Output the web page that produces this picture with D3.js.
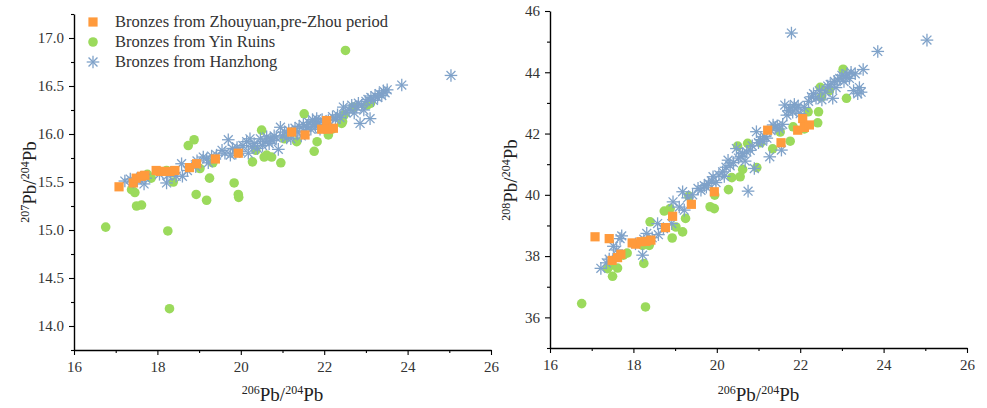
<!DOCTYPE html>
<html><head><meta charset="utf-8">
<script src="https://cdn.jsdelivr.net/npm/d3@7"></script>
<style>
body{margin:0;background:#fff;}
svg text{font-family:"Liberation Serif","Times New Roman",serif !important;}
</style></head>
<body><svg id="c" width="987" height="408"></svg>
<script>
// ---- DATA ----
const seriesNames = ["Bronzes from Zhouyuan,pre-Zhou period","Bronzes from Yin Ruins","Bronzes from Hanzhong"];
const seriesColors = ["#FF9A3C","#9BDA5C","#7FA2C9"];
// Zhouyuan: 206/204, 207/204, 208/204
const zhou206 = [17.08,17.42,17.49,17.62,17.70,17.97,18.06,18.18,18.30,18.42,18.77,18.94,19.39,19.94,21.22,21.54,21.94,22.06,22.10,22.22];
const zhou207 = [15.45,15.49,15.54,15.56,15.57,15.62,15.61,15.61,15.61,15.62,15.65,15.69,15.74,15.80,16.02,15.99,16.05,16.14,16.05,16.06];
const zhou208 = [38.63,38.57,37.86,37.95,38.06,38.43,38.39,38.47,38.48,38.52,38.93,39.30,39.69,40.10,42.11,41.70,42.11,42.49,42.20,42.28];
// Yin Ruins
const yin206 = [16.76,17.38,17.46,17.50,17.62,17.76,17.85,18.22,18.25,18.29,18.38,18.40,18.74,18.88,18.93,19.02,19.18,19.25,19.33,19.84,19.94,19.95,20.28,20.36,20.50,20.56,20.62,20.74,20.96,21.05,21.34,21.52,21.76,21.83,22.10,22.19,22.42,22.44,22.48,22.51,22.70,23.03,23.11];
const yin207 = [15.03,15.42,15.39,15.25,15.26,15.58,15.54,15.62,14.99,14.18,15.50,15.60,15.88,15.94,15.37,15.64,15.31,15.54,15.70,15.49,15.37,15.34,15.71,15.83,16.04,15.76,15.78,15.76,15.70,15.95,15.92,16.21,15.82,15.92,15.99,16.05,16.11,16.13,16.20,16.87,16.28,16.30,16.32];
const yin208 = [36.45,37.59,37.70,37.34,37.61,38.03,38.10,38.35,37.76,36.34,38.35,39.12,39.47,39.55,38.59,38.95,38.79,39.23,39.96,39.61,39.55,39.99,40.17,40.56,41.59,40.59,40.83,41.68,40.89,41.70,41.50,42.05,41.75,42.22,42.15,42.71,42.35,42.71,43.51,43.20,43.40,44.10,43.15];
// Hanzhong
const han206 = [17.22,17.35,17.42,17.52,17.60,17.68,17.72,18.05,18.22,18.25,18.32,18.45,18.58,18.60,18.72,18.92,18.95,19.10,19.18,19.22,19.30,19.42,19.55,19.62,19.70,19.75,19.80,19.88,19.91,19.98,20.05,20.14,20.18,20.22,20.27,20.32,20.40,20.47,20.52,20.58,20.62,20.68,20.72,20.75,20.80,20.85,20.90,20.95,21.00,21.05,21.10,21.15,21.20,21.27,21.30,21.35,21.40,21.45,21.50,21.55,21.58,21.63,21.68,21.72,21.76,21.79,21.82,21.86,21.90,21.95,22.00,22.10,22.20,22.27,22.32,22.38,22.46,22.52,22.60,22.66,22.72,22.78,22.82,22.86,22.90,22.95,23.00,23.05,23.10,23.12,23.18,23.22,23.28,23.32,23.38,23.42,23.46,23.51,23.86,25.04];
const han207 = [15.51,15.53,15.50,15.52,15.55,15.48,15.54,15.58,15.49,15.57,15.60,15.56,15.69,15.56,15.62,15.66,15.72,15.76,15.74,15.70,15.77,15.78,15.83,15.80,15.94,15.78,15.85,15.80,15.86,15.82,15.88,15.92,15.80,15.95,15.87,15.90,15.85,15.95,15.88,15.92,15.97,15.90,15.95,15.93,15.98,15.96,15.84,16.07,15.98,16.02,15.96,16.04,15.95,16.00,16.06,16.02,16.08,15.98,16.10,16.03,16.07,16.12,16.05,16.15,16.10,16.08,16.16,16.12,16.05,16.15,16.10,16.14,16.18,16.15,16.20,16.17,16.28,16.22,16.25,16.30,16.22,16.28,16.32,16.11,16.30,16.25,16.34,16.36,16.16,16.38,16.35,16.40,16.38,16.42,16.40,16.45,16.43,16.46,16.51,16.61];
const han208 = [37.60,37.78,37.90,38.32,38.20,38.57,38.66,38.40,38.03,38.55,38.74,38.60,39.06,38.70,38.90,39.06,39.77,39.60,40.10,39.50,39.90,40.00,40.21,40.15,40.30,40.25,40.37,40.45,40.59,40.40,40.65,40.75,40.60,40.90,41.13,40.95,41.05,41.51,41.20,41.25,41.35,41.10,41.40,40.12,41.45,41.60,40.86,42.06,41.70,41.80,41.75,41.90,41.85,41.24,42.10,42.28,42.20,42.25,42.15,41.46,42.30,42.93,42.60,42.75,42.85,45.28,42.70,42.95,42.80,42.90,42.65,42.85,43.05,43.20,43.30,43.15,43.40,43.10,43.35,43.55,43.60,43.15,43.70,43.50,43.75,43.80,43.90,43.70,43.85,43.95,43.80,44.00,43.40,43.95,43.30,43.50,43.35,44.09,44.68,45.05];

const xTicks = [16,18,20,22,24,26];
const xMinor = [17,19,21,23,25];
const y207Ticks = [14.0,14.5,15.0,15.5,16.0,16.5,17.0];
const y207Minor = [13.75,14.25,14.75,15.25,15.75,16.25,16.75,17.25];
const y208Ticks = [36,38,40,42,44,46];
const y208Minor = [35,37,39,41,43,45];

// ---- DRAW ----
const svg = d3.select("#c");
const SERIF = "Liberation Serif, Times New Roman, serif";

function drawStar(g, x, y, color){
  const r = 6.3;
  const p = g.append("g").attr("transform",`translate(${x},${y})`);
  [0,45,90,135].forEach(a=>{
    const rad = a*Math.PI/180;
    p.append("line").attr("x1",-r*Math.cos(rad)).attr("y1",-r*Math.sin(rad))
      .attr("x2",r*Math.cos(rad)).attr("y2",r*Math.sin(rad))
      .attr("stroke",color).attr("stroke-width",1.3);
  });
}

function panel(opts){
  const g = svg.append("g");
  const x = d3.scaleLinear().domain([16,26]).range([opts.x0,opts.x1]);
  const y = d3.scaleLinear().domain(opts.yDomain).range([opts.y1,opts.y0]);

  g.append("g").attr("transform",`translate(0,${opts.y1})`)
    .call(d3.axisBottom(x).tickValues(xMinor).tickSize(3).tickFormat("").tickSizeOuter(0))
    .call(a=>a.select(".domain").remove());
  g.append("g").attr("transform",`translate(${opts.x0},0)`)
    .call(d3.axisLeft(y).tickValues(opts.yMinor).tickSize(3).tickFormat("").tickSizeOuter(0))
    .call(a=>a.select(".domain").remove());
  const ax = g.append("g").attr("transform",`translate(0,${opts.y1})`)
    .call(d3.axisBottom(x).tickValues(xTicks).tickSize(5).tickSizeOuter(0).tickPadding(6));
  const ay = g.append("g").attr("transform",`translate(${opts.x0},0)`)
    .call(d3.axisLeft(y).tickValues(opts.yTicks).tickSize(5).tickSizeOuter(0).tickPadding(5).tickFormat(opts.fmt));
  [ax,ay].forEach(a=>{
    a.attr("font-family",SERIF).attr("font-size",15);
    a.selectAll("text").attr("fill","#333");
    a.select(".domain").attr("stroke","#000").attr("stroke-width",1.4);
  });
  g.selectAll(".tick line").attr("stroke","#000").attr("stroke-width",1.1);

  const pts = g.append("g");
  yin206.forEach((v,i)=>{
    pts.append("circle").attr("cx",x(v)).attr("cy",y(opts.yin[i])).attr("r",4.8).attr("fill",seriesColors[1]);
  });
  han206.forEach((v,i)=>{ drawStar(pts, x(v), y(opts.han[i]), seriesColors[2]); });
  zhou206.forEach((v,i)=>{
    pts.append("rect").attr("x",x(v)-4.6).attr("y",y(opts.zhou[i])-4.6).attr("width",9.2).attr("height",9.2).attr("fill",seriesColors[0]);
  });

  const xt = g.append("text").attr("x",(opts.x0+opts.x1)/2).attr("y",401).attr("text-anchor","middle")
    .attr("font-family",SERIF).attr("font-size",19).attr("fill","#222");
  xt.append("tspan").attr("font-size",12).attr("dy",-7).text("206");
  xt.append("tspan").attr("dy",7).text("Pb/");
  xt.append("tspan").attr("font-size",12).attr("dy",-7).text("204");
  xt.append("tspan").attr("dy",7).text("Pb");

  const yt = g.append("text").attr("transform",`translate(${opts.ytx},${opts.yty}) rotate(-90)`)
    .attr("text-anchor","middle").attr("font-family",SERIF).attr("font-size",19).attr("fill","#222");
  yt.append("tspan").attr("font-size",12).attr("dy",-7).text(opts.ysup);
  yt.append("tspan").attr("dy",7).text("Pb/");
  yt.append("tspan").attr("font-size",12).attr("dy",-7).text("204");
  yt.append("tspan").attr("dy",7).text("Pb");
  return g;
}

panel({x0:74,x1:491,y0:14,y1:350,yDomain:[13.75,17.25],yTicks:y207Ticks,yMinor:y207Minor,fmt:d3.format(".1f"),
  zhou:zhou207,yin:yin207,han:han207,ytx:36,yty:182,ysup:"207"});
panel({x0:550,x1:967,y0:11,y1:348,yDomain:[35,46],yTicks:y208Ticks,yMinor:y208Minor,fmt:d3.format("d"),
  zhou:zhou208,yin:yin208,han:han208,ytx:517,yty:180,ysup:"208"});

const lg = svg.append("g");
seriesNames.forEach((n,i)=>{
  const cy = 22 + i*20, cx = 93;
  if(i===0) lg.append("rect").attr("x",cx-4.6).attr("y",cy-4.6).attr("width",9.2).attr("height",9.2).attr("fill",seriesColors[0]);
  if(i===1) lg.append("circle").attr("cx",cx).attr("cy",cy).attr("r",4.8).attr("fill",seriesColors[1]);
  if(i===2) drawStar(lg,cx,cy,seriesColors[2]);
  lg.append("text").attr("x",115).attr("y",cy+5).attr("font-family",SERIF).attr("font-size",16.5).attr("fill","#333").text(n);
});
</script></body></html>
